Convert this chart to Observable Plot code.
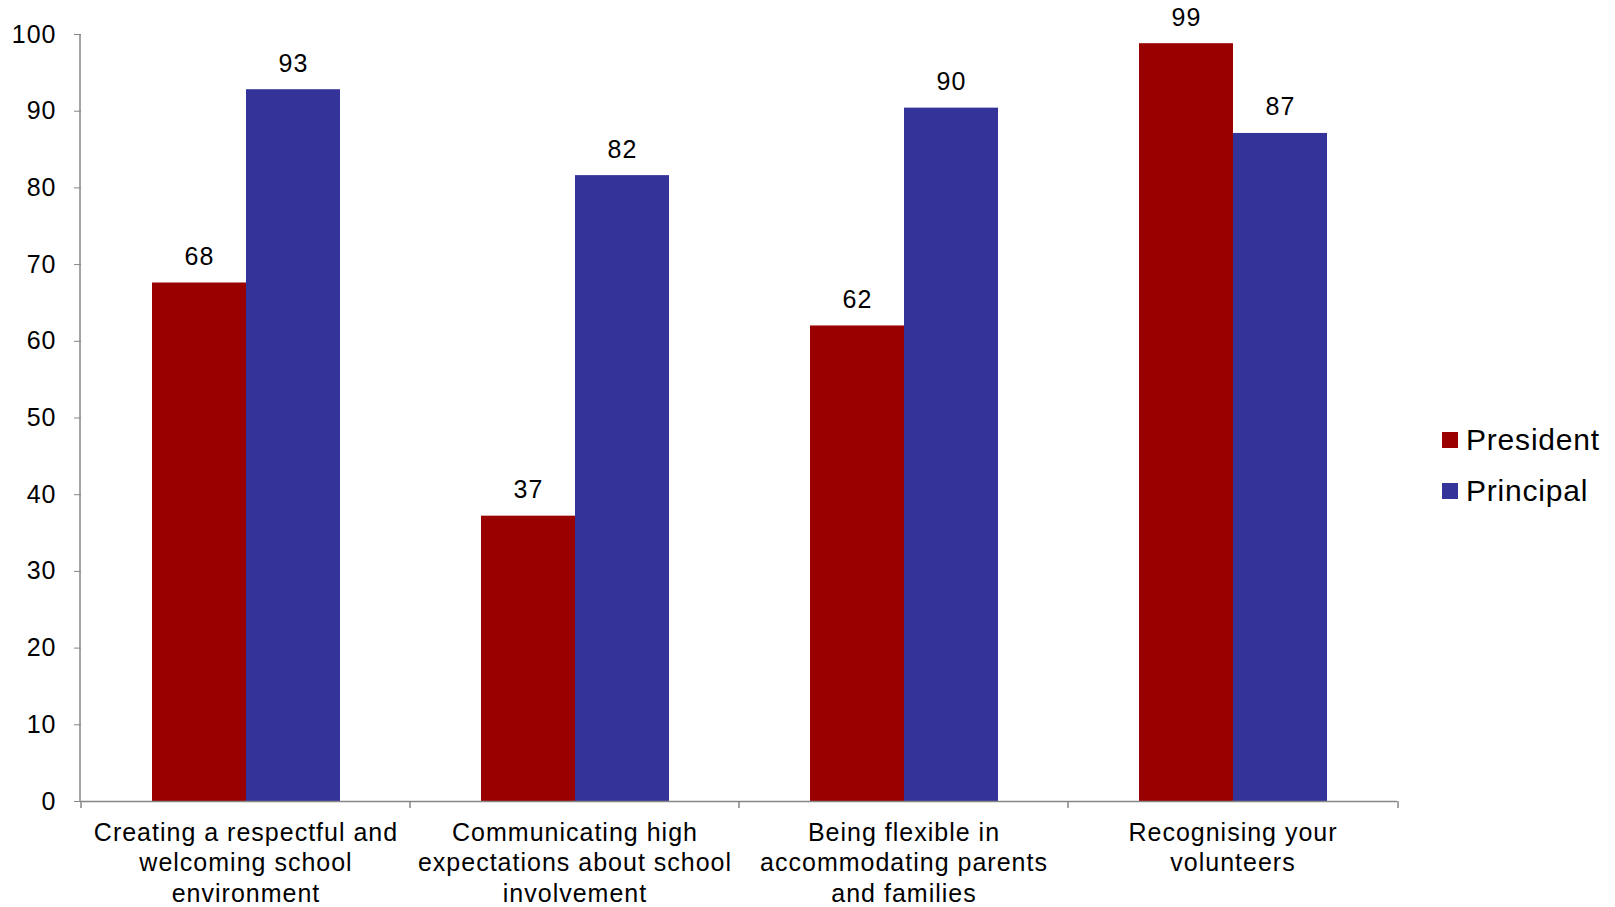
<!DOCTYPE html>
<html><head><meta charset="utf-8">
<script src="https://cdn.jsdelivr.net/npm/d3@7"></script>
<script src="https://cdn.jsdelivr.net/npm/@observablehq/plot@0.6"></script>
<style>
body{margin:0;background:#fff;font-family:"Liberation Sans",Arial,sans-serif;}
#wrap{position:relative;width:1615px;height:907px;overflow:hidden;}
#legend{position:absolute;left:1442px;top:414px;font-size:30px;letter-spacing:0.8px;color:#000;}
.item{display:flex;align-items:center;height:51px;}
.sw{width:16px;height:16px;margin-right:8px;}
svg text{letter-spacing:1px;}
</style></head><body>
<div id="wrap"><div id="chart"></div><div id="legend"></div></div>
<script>
const categories = [
  "Creating a respectful and\nwelcoming school\nenvironment",
  "Communicating high\nexpectations about school\ninvolvement",
  "Being flexible in\naccommodating parents\nand families",
  "Recognising your\nvolunteers"
];
const series = ["President", "Principal"];
const president = [67.6, 37.2, 62.0, 98.8];
const principal = [92.8, 81.6, 90.4, 87.1];
const colors = ["#990000", "#333399"];
const yTicks = [0, 10, 20, 30, 40, 50, 60, 70, 80, 90, 100];

const data = categories.flatMap((c, i) => [
  {category: c, series: series[0], value: president[i]},
  {category: c, series: series[1], value: principal[i]}
]);

const plot = Plot.plot({
  width: 1615, height: 907,
  marginLeft: 80, marginRight: 217, marginTop: 34, marginBottom: 106,
  style: {fontFamily: "'Liberation Sans', Arial, sans-serif", fontSize: "25px", color: "#000", background: "#fff"},
  fx: {domain: categories, padding: 0, label: null},
  x: {domain: series, paddingInner: 0, paddingOuter: 0.745, axis: null},
  y: {domain: [0, 100], label: null},
  color: {domain: series, range: colors},
  marks: [
    Plot.barY(data, {fx: "category", x: "series", y: "value", fill: "series"}),
    Plot.text(data, {fx: "category", x: "series", y: "value", text: d => Math.round(d.value), dy: -26, fontSize: 25, lineAnchor: "middle", fill: "#000"}),
    Plot.ruleY([0], {stroke: "#868686", strokeWidth: 1.5}),
    Plot.axisY({ticks: yTicks, tickSize: 7, tickPadding: 18, stroke: "#868686", fill: "#000", fontSize: 25, label: null}),
    Plot.axisFx({anchor: "bottom", tickSize: 0, tickPadding: 18, fontSize: 25, lineHeight: 1.215, label: null, fill: "#000"})
  ]
});

const fx = plot.scale("fx"), y = plot.scale("y");
const g = d3.select(plot).append("g").attr("stroke", "#868686").attr("stroke-width", 1.5).attr("fill", "none");
g.append("line").attr("x1", fx.range[0]).attr("x2", fx.range[0]).attr("y1", y.apply(0)).attr("y2", y.apply(100));
const edges = [...categories.map(c => fx.apply(c)), fx.range[1]];
edges.forEach(e => g.append("line").attr("x1", e).attr("x2", e).attr("y1", y.apply(0)).attr("y2", y.apply(0) + 7));

document.getElementById("chart").appendChild(plot);

const legend = document.getElementById("legend");
series.forEach((s, i) => {
  const item = document.createElement("div"); item.className = "item";
  const sw = document.createElement("div"); sw.className = "sw"; sw.style.background = colors[i];
  const t = document.createElement("span"); t.textContent = s;
  item.appendChild(sw); item.appendChild(t); legend.appendChild(item);
});
</script>
</body></html>
